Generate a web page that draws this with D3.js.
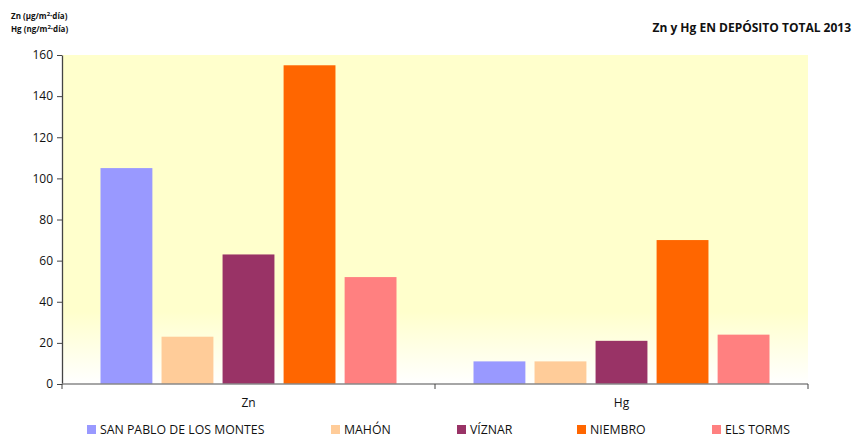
<!DOCTYPE html>
<html><head><meta charset="utf-8">
<script src="https://cdn.jsdelivr.net/npm/d3@7"></script>
<style>body{margin:0;background:#fff}svg{display:block}</style>
</head><body>
<svg id="c" width="854" height="437"></svg>
<script>
const categories = ["Zn", "Hg"];
const seriesNames = ["SAN PABLO DE LOS MONTES", "MAHÓN", "VÍZNAR", "NIEMBRO", "ELS TORMS"];
const colors = ["#9999FF", "#FFCC99", "#993366", "#FF6600", "#FF8080"];
const sanPablo = [105, 11];
const mahon = [23, 11];
const viznar = [63, 21];
const niembro = [155, 70];
const elsTorms = [52, 24];
const yTicks = [0, 20, 40, 60, 80, 100, 120, 140, 160];
const series = [sanPablo, mahon, viznar, niembro, elsTorms];

const svg = d3.select("#c");
const L = 62, R = 808, T = 55, B = 384;
const font = "'Open Sans', 'DejaVu Sans', sans-serif";

const defs = svg.append("defs");
const g = defs.append("linearGradient").attr("id","bg").attr("x1",0).attr("y1",0).attr("x2",0).attr("y2",1);
g.append("stop").attr("offset","0%").attr("stop-color","#FFFFCC");
g.append("stop").attr("offset","78%").attr("stop-color","#FFFFCC");
g.append("stop").attr("offset","100%").attr("stop-color","#FFFFFF");

svg.append("rect").attr("x",L).attr("y",T).attr("width",R-L).attr("height",B-T).attr("fill","url(#bg)");

const y = d3.scaleLinear().domain([0,160]).range([B,T]);
const x0 = d3.scaleBand().domain(categories).range([L,R]).paddingInner(0).paddingOuter(0);
const x1 = d3.scaleBand().domain(d3.range(series.length)).range([38.5, x0.bandwidth()-38.5]).paddingInner(0.15).paddingOuter(0);

series.forEach((s, i) => {
  svg.append("g").selectAll("rect").data(categories).join("rect")
    .attr("x", c => x0(c) + x1(i))
    .attr("y", (c, j) => y(s[j]))
    .attr("width", x1.bandwidth())
    .attr("height", (c, j) => B - y(s[j]))
    .attr("fill", colors[i]);
});

// y axis
const ya = svg.append("g").attr("transform",`translate(${L},0)`)
  .call(d3.axisLeft(y).tickValues(yTicks).tickSize(5).tickSizeOuter(0));
ya.select(".domain").attr("stroke","#444").attr("stroke-width",1.3);
ya.selectAll(".tick line").attr("stroke","#444");
ya.selectAll(".tick text").attr("font-family",font).attr("font-size",12).attr("fill","#111").attr("x",-9);

// x axis
const xa = svg.append("g").attr("transform",`translate(0,${B})`);
xa.append("line").attr("x1",L).attr("x2",R).attr("y1",0).attr("y2",0).attr("stroke","#888").attr("stroke-width",1.5);
[L, L + x0.bandwidth(), R].forEach(px => {
  xa.append("line").attr("x1",px).attr("x2",px).attr("y1",0).attr("y2",5).attr("stroke","#444");
});
xa.selectAll("text.cat").data(categories).join("text").attr("class","cat")
  .attr("x", c => x0(c) + x0.bandwidth()/2).attr("y", 23)
  .attr("text-anchor","middle").attr("font-family",font).attr("font-size",12).attr("fill","#111")
  .text(c => c);

// unit label
const ul = svg.append("text").attr("x",11).attr("y",19).attr("font-family",font).attr("font-size",8).attr("font-weight","bold").attr("fill","#111");
ul.append("tspan").text("Zn (µg/m");
ul.append("tspan").attr("dy",-3).attr("font-size",6).text("2");
ul.append("tspan").attr("dy",3).text("·día)");
const ul2 = svg.append("text").attr("x",11).attr("y",32).attr("font-family",font).attr("font-size",8).attr("font-weight","bold").attr("fill","#111");
ul2.append("tspan").text("Hg (ng/m");
ul2.append("tspan").attr("dy",-3).attr("font-size",6).text("2");
ul2.append("tspan").attr("dy",3).text("·día)");

// title
svg.append("text").attr("x",851).attr("y",32).attr("text-anchor","end").attr("font-family",font)
  .attr("font-size",12).attr("font-weight","bold").attr("fill","#111").text("Zn y Hg EN DEPÓSITO TOTAL 2013");

// legend
const legX = [87, 331, 457, 577, 712];
seriesNames.forEach((n, i) => {
  svg.append("rect").attr("x",legX[i]).attr("y",425).attr("width",9).attr("height",9).attr("fill",colors[i]);
  svg.append("text").attr("x",legX[i]+13).attr("y",434).attr("font-family",font).attr("font-size",12.3).attr("fill","#111").text(n);
});
</script>
</body></html>
